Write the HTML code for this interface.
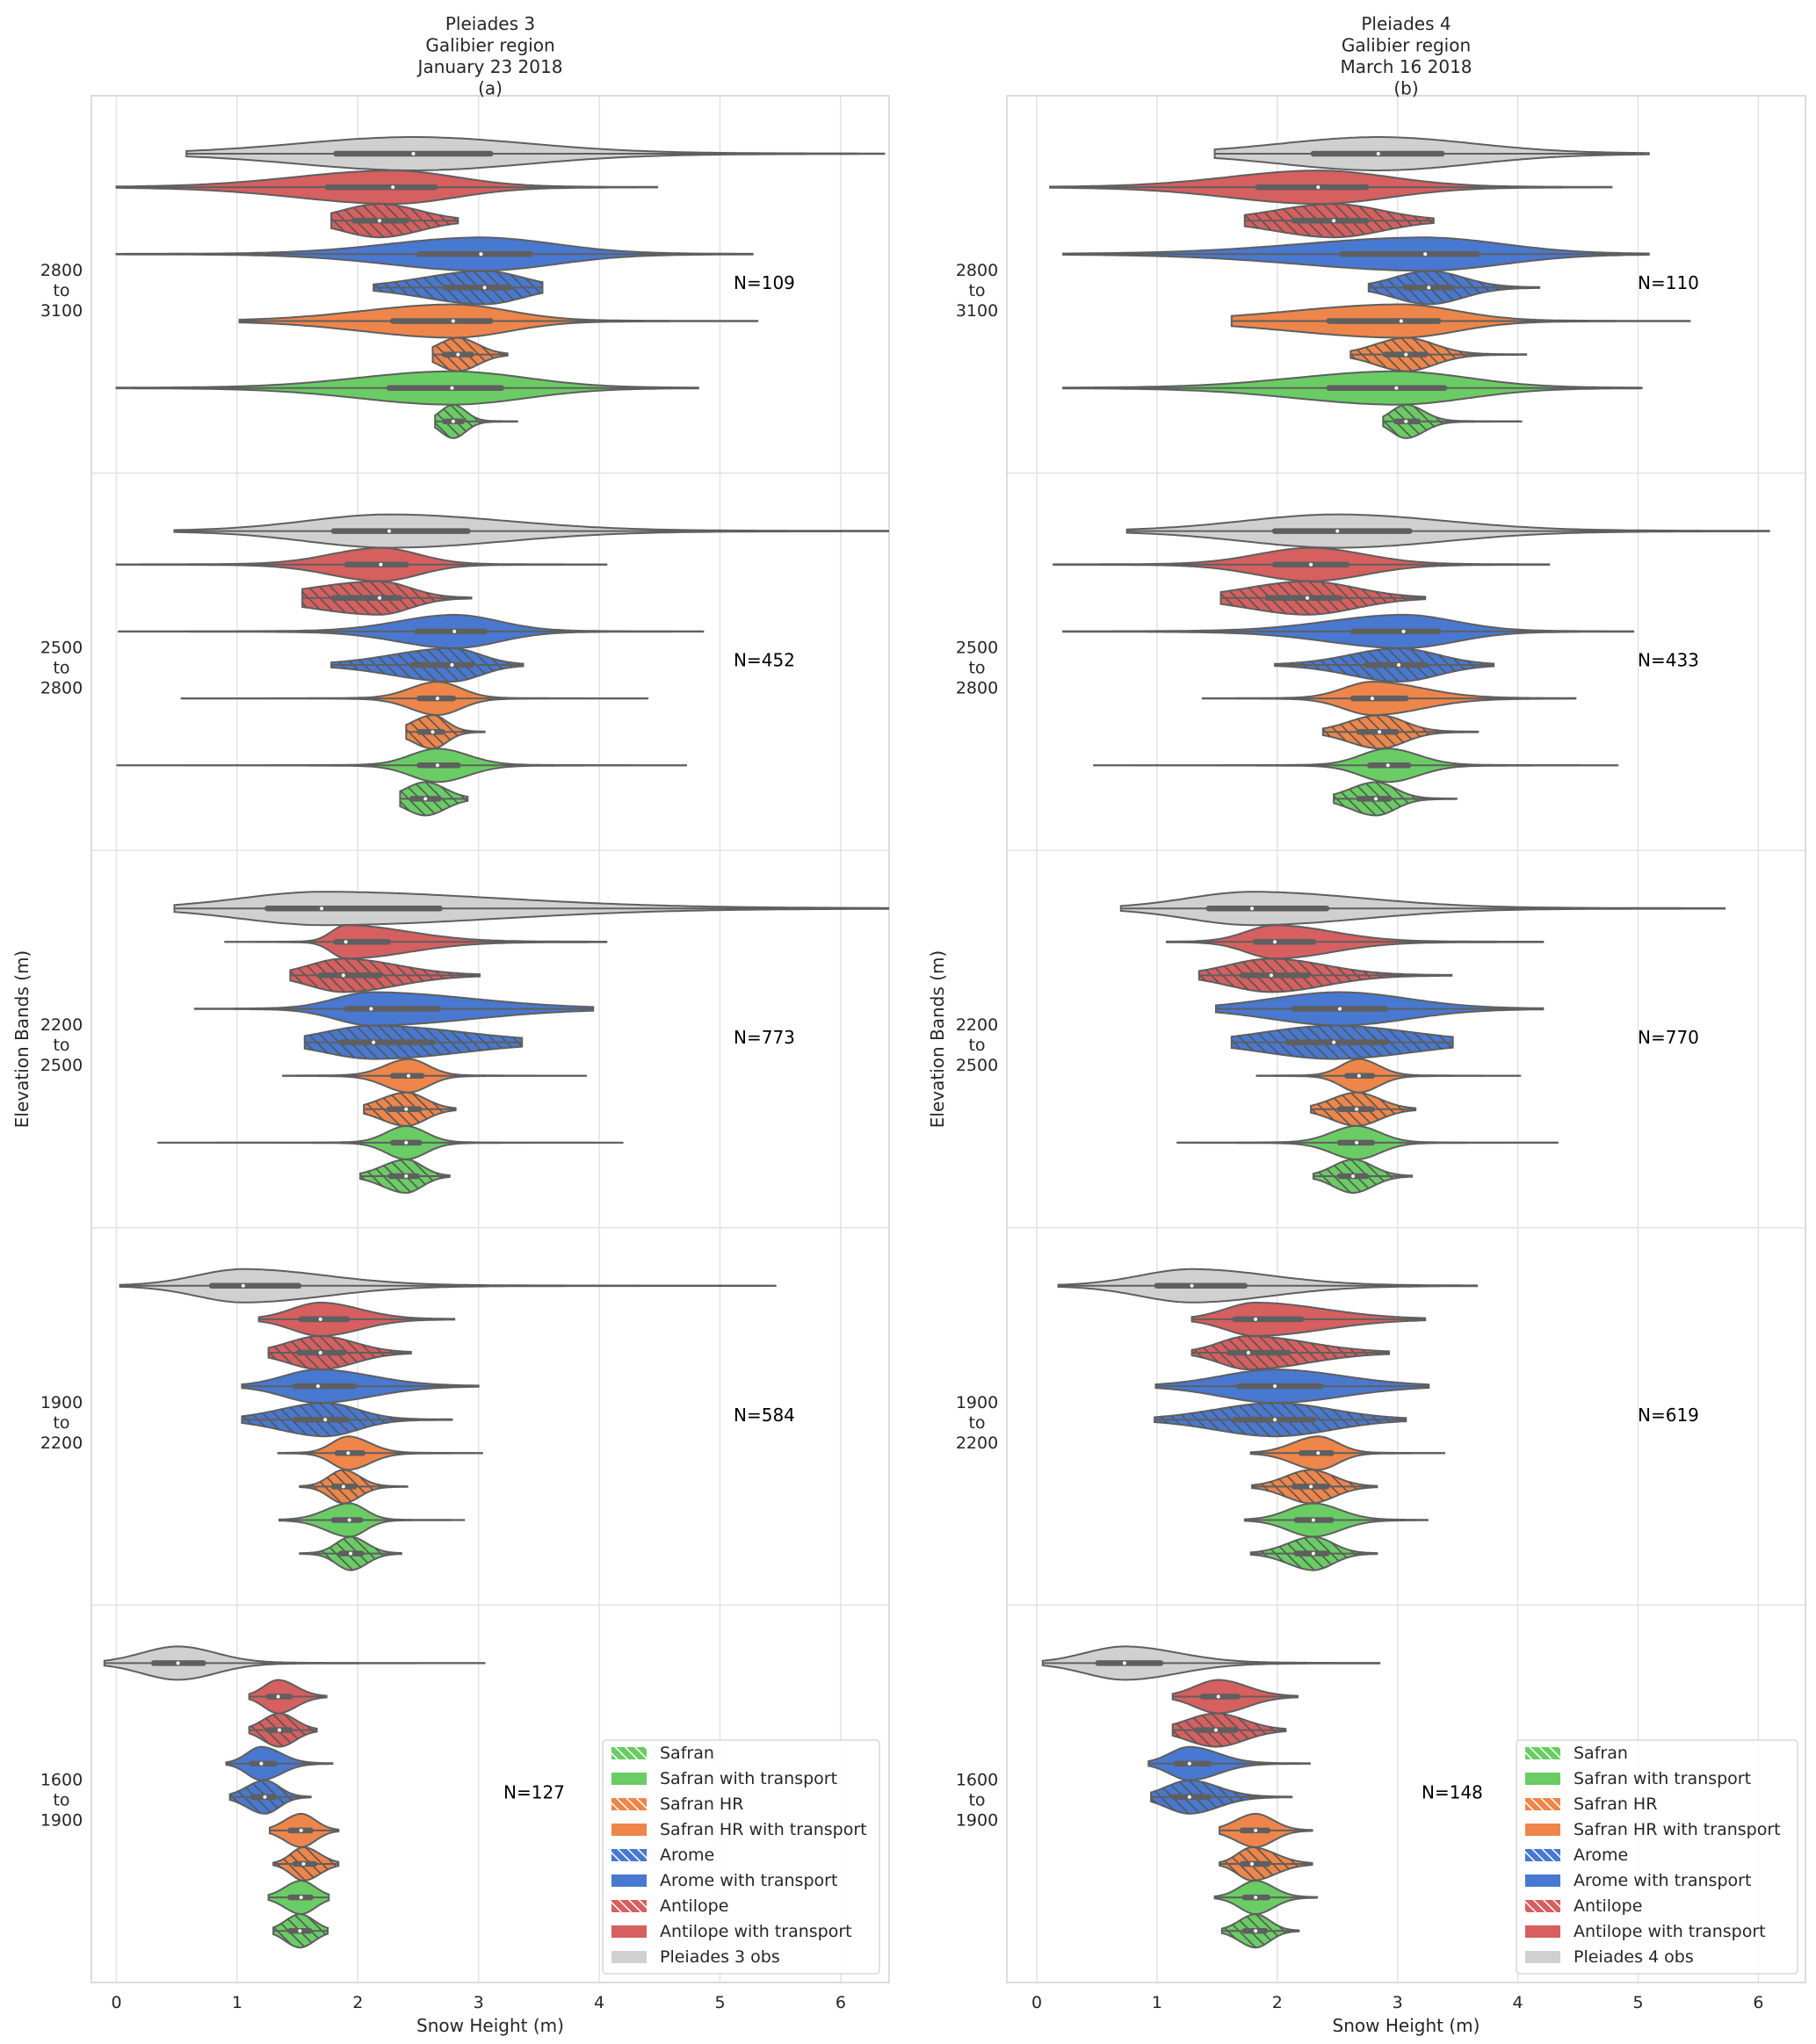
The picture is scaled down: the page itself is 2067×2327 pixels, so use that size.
<!DOCTYPE html>
<html><head><meta charset="utf-8"><style>
html,body{margin:0;padding:0;background:#fff;}
svg{display:block;font-family:"DejaVu Sans","Liberation Sans",sans-serif;}
</style></head><body>
<svg id="chart" width="2067" height="2327" viewBox="0 0 2067 2327" xmlns="http://www.w3.org/2000/svg">
<defs>
<pattern id="hatch" patternUnits="userSpaceOnUse" width="9" height="9" patternTransform="rotate(-45)">
<rect width="9" height="9" fill="none"/><line x1="0" y1="0" x2="0" y2="9" stroke="#555" stroke-width="3.2"/>
</pattern>
<pattern id="hatchW" patternUnits="userSpaceOnUse" width="8" height="8" patternTransform="rotate(-45)">
<line x1="0" y1="0" x2="0" y2="8" stroke="#fff" stroke-width="3"/>
</pattern>
<clipPath id="clipA"><rect x="104" y="109" width="908" height="2148"/></clipPath>
<clipPath id="clipB"><rect x="1146" y="109" width="909" height="2148"/></clipPath>
</defs>
<g id="root"></g>
</svg>
<script>
// ---- data ----
const bandLabels = [["2800","3100"],["2500","2800"],["2200","2500"],["1900","2200"],["1600","1900"]];
const seriesNames = ["Pleiades obs","Antilope with transport","Antilope","Arome with transport","Arome","Safran HR with transport","Safran HR","Safran with transport","Safran"];
const seriesColors = ["#d0d0d0","#d65f5f","#d65f5f","#4878d0","#4878d0","#ee854a","#ee854a","#6acc64","#6acc64"];
const seriesHatched = [false,false,true,false,true,false,true,false,true];
const xTicks = [0,1,2,3,4,5,6];
const nLeft = [109,452,773,584,127];
const nRight = [110,433,770,619,148];
// [min, q1, median, q3, max] per violin, top-to-bottom within band
const a1 = [[0.58,1.82,2.46,3.1,6.36],[0,1.75,2.29,2.64,4.48],[1.78,1.97,2.18,2.4,2.83],[0,2.51,3.02,3.43,5.27],[2.13,2.72,3.05,3.26,3.53],[1.02,2.29,2.79,3.1,5.31],[2.62,2.72,2.83,2.94,3.24],[0,2.26,2.78,3.19,4.82],[2.64,2.72,2.79,2.86,3.32]];
const a2 = [[0.48,1.8,2.26,2.91,6.6],[0,1.91,2.19,2.4,4.06],[1.54,1.8,2.18,2.35,2.94],[0.02,2.49,2.8,3.05,4.86],[1.78,2.45,2.78,2.94,3.37],[0.54,2.51,2.66,2.79,4.4],[2.4,2.51,2.62,2.7,3.05],[0,2.51,2.66,2.83,4.72],[2.35,2.45,2.56,2.67,2.91]];
const a3 = [[0.48,1.25,1.7,2.68,6.6],[0.9,1.82,1.9,2.25,4.06],[1.44,1.69,1.88,2.18,3.01],[0.65,1.91,2.11,2.67,3.95],[1.56,1.86,2.13,2.62,3.36],[1.38,2.29,2.42,2.53,3.89],[2.05,2.26,2.4,2.51,2.81],[0.34,2.29,2.4,2.51,4.2],[2.02,2.27,2.4,2.49,2.76]];
const a4 = [[0.03,0.79,1.05,1.51,5.46],[1.18,1.53,1.69,1.91,2.8],[1.26,1.51,1.69,1.88,2.44],[1.04,1.48,1.67,1.97,3.0],[1.04,1.48,1.73,1.91,2.78],[1.34,1.83,1.92,2.04,3.03],[1.52,1.8,1.88,1.97,2.41],[1.35,1.8,1.93,2.02,2.88],[1.52,1.86,1.94,2.03,2.36]];
const a5 = [[-0.1,0.31,0.51,0.72,3.05],[1.1,1.26,1.34,1.44,1.74],[1.1,1.26,1.35,1.44,1.66],[0.91,1.12,1.2,1.31,1.79],[0.94,1.13,1.23,1.31,1.61],[1.27,1.44,1.53,1.61,1.84],[1.3,1.48,1.55,1.64,1.84],[1.26,1.44,1.53,1.61,1.76],[1.3,1.44,1.52,1.6,1.75]];
const b1 = [[1.48,2.3,2.84,3.37,5.09],[0.11,1.84,2.34,2.74,4.78],[1.73,2.14,2.47,2.74,3.3],[0.22,2.54,3.23,3.66,5.09],[2.76,3.07,3.26,3.45,4.18],[1.62,2.43,3.03,3.34,5.43],[2.61,2.9,3.07,3.23,4.07],[0.22,2.43,2.99,3.39,5.03],[2.88,2.99,3.07,3.17,4.03]];
const b2 = [[0.75,1.98,2.5,3.1,6.09],[0.14,1.98,2.28,2.58,4.26],[1.53,1.92,2.25,2.52,3.23],[0.22,2.63,3.05,3.34,4.96],[1.98,2.74,3.01,3.23,3.8],[1.38,2.63,2.79,3.07,4.48],[2.38,2.68,2.85,2.99,3.67],[0.47,2.77,2.92,3.09,4.83],[2.47,2.68,2.82,2.93,3.49]];
const b3 = [[0.7,1.43,1.79,2.41,5.72],[1.08,1.82,1.98,2.3,4.21],[1.35,1.71,1.95,2.25,3.45],[1.49,2.14,2.52,2.9,4.21],[1.62,2.09,2.47,2.9,3.46],[1.83,2.58,2.68,2.79,4.02],[2.28,2.52,2.66,2.79,3.15],[1.17,2.52,2.66,2.79,4.33],[2.3,2.52,2.63,2.74,3.12]];
const b4 = [[0.18,1.0,1.29,1.73,3.66],[1.29,1.65,1.82,2.2,3.23],[1.29,1.6,1.76,2.09,2.93],[0.99,1.68,1.98,2.36,3.26],[0.98,1.65,1.98,2.3,3.07],[1.78,2.2,2.34,2.45,3.39],[1.79,2.14,2.28,2.41,2.83],[1.73,2.16,2.3,2.45,3.25],[1.78,2.16,2.3,2.41,2.83]];
const b5 = [[0.05,0.51,0.73,1.03,2.85],[1.13,1.38,1.51,1.67,2.17],[1.13,1.33,1.49,1.65,2.07],[0.93,1.16,1.27,1.43,2.27],[0.95,1.14,1.27,1.43,2.12],[1.52,1.71,1.82,1.92,2.29],[1.52,1.71,1.79,1.92,2.29],[1.48,1.73,1.82,1.92,2.33],[1.54,1.73,1.82,1.9,2.18]];
const leftBands = [a1,a2,a3,a4,a5];
const rightBands = [b1,b2,b3,b4,b5];

// ---- layout ----
const NS = "http://www.w3.org/2000/svg";
const root = document.getElementById("root");
const axTop = 109, axBot = 2257, bandH = (axBot - axTop) / 5;
const slotOff = 66, slotStep = 38.1, halfW = 19;
function mk(tag, attrs, parent){ const e=document.createElementNS(NS,tag); for(const k in attrs) e.setAttribute(k,attrs[k]); (parent||root).appendChild(e); return e; }

const panels = [
 {x0:104,x1:1012,zero:132.5,scale:137.4,bands:leftBands,n:nLeft,title:["Pleiades 3","Galibier region","January 23 2018","(a)"],obs:"Pleiades 3 obs",clip:"clipA",key:"a",nx:[835,835,835,835,573]},
 {x0:1146,x1:2055,zero:1180,scale:136.9,bands:rightBands,n:nRight,title:["Pleiades 4","Galibier region","March 16 2018","(b)"],obs:"Pleiades 4 obs",clip:"clipB",key:"b",nx:[1864,1864,1864,1864,1618]}
];

function density(v, s){
  const [mn,q1,md,q3,mx]=s;
  const sl=Math.max((md-q1)/0.674,0.04), sr=Math.max((q3-md)/0.674,0.04);
  const sg = v<md?sl:sr;
  const z=(v-md)/sg;
  return Math.exp(-0.5*z*z)+0.07*Math.exp(-Math.abs(v-md)/(sg*3));
}

panels.forEach((P,pi)=>{
  const xs = v => P.zero + v*P.scale;
  const g = mk("g",{});
  
  
  xTicks.forEach(t=>{
    const l=mk("line",{x1:xs(t),x2:xs(t),y1:axTop,y2:axBot,stroke:"#e3e3e3","stroke-width":1.5},g);
    
    
    const tx=mk("text",{x:xs(t),y:2286,"font-size":19,"text-anchor":"middle",fill:"#262626"},g);
    tx.textContent=t;
    
    
  });
  for(let b=1;b<5;b++){
    const l=mk("line",{x1:P.x0,x2:P.x1,y1:axTop+b*bandH,y2:axTop+b*bandH,stroke:"#e3e3e3","stroke-width":1.5},g);
    
    
  }
  const fr=mk("rect",{x:P.x0,y:axTop,width:P.x1-P.x0,height:axBot-axTop,fill:"none",stroke:"#d0d0d0","stroke-width":1.5},g);
  
  
  P.title.forEach((t,i)=>{
    const tx=mk("text",{x:(P.x0+P.x1)/2,y:34+i*24.5,"font-size":20,"text-anchor":"middle",fill:"#262626"},g);
    tx.textContent=t;
    
    
  });
  const xt=mk("text",{x:(P.x0+P.x1)/2,y:2313,"font-size":20,"text-anchor":"middle",fill:"#262626"},g);
  xt.textContent="Snow Height (m)";
  
  
  const yt=mk("text",{x:0,y:0,"font-size":20,"text-anchor":"middle",fill:"#262626",transform:`translate(${P.x0-72},${(axTop+axBot)/2}) rotate(-90)`},g);
  yt.textContent="Elevation Bands (m)";
  
  
  bandLabels.forEach((bl,b)=>{
    const cy=axTop+b*bandH+214;
    [bl[0],"to",bl[1]].forEach((t,i)=>{
      const tx=mk("text",{x:P.x0-34,y:cy-9+i*23,"font-size":19,"text-anchor":"middle",fill:"#262626"},g);
      tx.textContent=t;
      
      
    });
    const nt=mk("text",{x:P.nx[b],y:cy+6,"font-size":20,fill:"#000"},g);
    nt.textContent="N="+P.n[b];
    
    
  });
  const vg=mk("g",{"clip-path":`url(#${P.clip})`},g);
  P.bands.forEach((band,b)=>{
    band.forEach((s,i)=>{
      const cy=axTop+b*bandH+slotOff+i*slotStep;
      const [mn,q1,md,q3,mx]=s;
      const N=120; const pts=[]; let dmax=0;
      for(let k=0;k<=N;k++){ const v=mn+(mx-mn)*k/N; const d=density(v,s); pts.push([v,d]); if(d>dmax)dmax=d; }
      let top="",bot="";
      pts.forEach(([v,d],k)=>{ const w=d/dmax*halfW; top+=(k?"L":"M")+xs(v).toFixed(1)+","+(cy-w).toFixed(1); });
      for(let k=pts.length-1;k>=0;k--){ const [v,d]=pts[k]; const w=d/dmax*halfW; bot+="L"+xs(v).toFixed(1)+","+(cy+w).toFixed(1); }
      const dstr=top+bot+"Z";
      const vio=mk("path",{d:dstr,fill:seriesColors[i],stroke:"#5f5f5f","stroke-width":2},vg);
      
      
      if(seriesHatched[i]){
        const h=mk("path",{d:dstr,fill:"url(#hatch)",stroke:"none"},vg);
        
        
      }
      const wl=mk("line",{x1:xs(mn),x2:xs(mx),y1:cy,y2:cy,stroke:"#5f5f5f","stroke-width":2},vg);
      
      
      const bx=mk("line",{x1:xs(q1),x2:xs(q3),y1:cy,y2:cy,stroke:"#5f5f5f","stroke-width":6.5,"stroke-linecap":"round"},vg);
      
      
      const md0=mk("circle",{cx:xs(md),cy:cy,r:2,fill:"#fff"},vg);
      
      
    });
  });
  const lx = pi===0 ? 686 : 1726, ly=1981, lw = pi===0 ? 315 : 320;
  const lg=mk("g",{},g);
  
  
  mk("rect",{x:lx,y:ly,width:lw,height:266,rx:4,fill:"#fff","fill-opacity":0.85,stroke:"#d8d8d8","stroke-width":1.5},lg);
  const legNames=["Safran","Safran with transport","Safran HR","Safran HR with transport","Arome","Arome with transport","Antilope","Antilope with transport",P.obs];
  const legIdx=[8,7,6,5,4,3,2,1,0];
  legNames.forEach((nm,k)=>{
    const si=legIdx[k]; const ry=ly+8+k*29;
    const ent=mk("g",{},lg);
    
    
    mk("rect",{x:lx+10,y:ry,width:40,height:14,fill:seriesColors[si]},ent);
    if(seriesHatched[si]) mk("rect",{x:lx+10,y:ry,width:40,height:14,fill:"url(#hatchW)"},ent);
    const t=mk("text",{x:lx+65,y:ry+13,"font-size":19,fill:"#262626"},ent);
    t.textContent=nm;
  });
});
</script>
</body></html>
